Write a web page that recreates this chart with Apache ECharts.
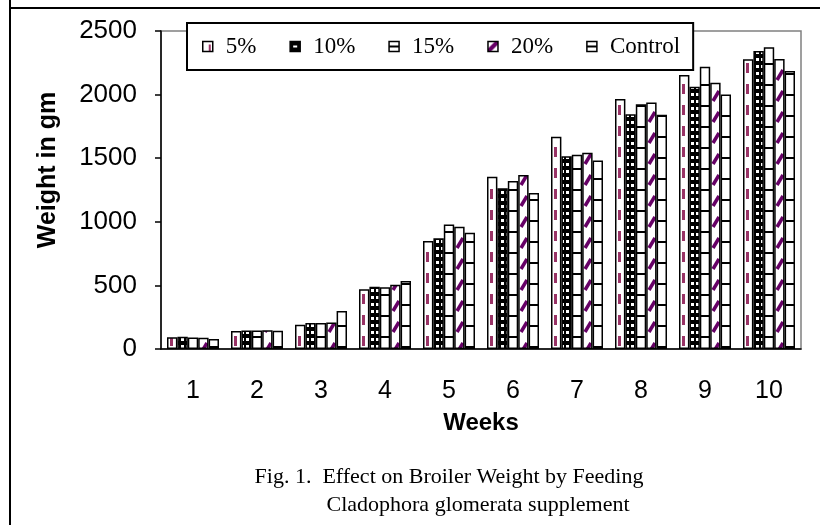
<!DOCTYPE html>
<html>
<head>
<meta charset="utf-8">
<script src="https://cdn.jsdelivr.net/npm/echarts@6/dist/echarts.min.js"></script>
<style>html,body{margin:0;padding:0;background:#fff;}#c{width:820px;height:525px;}</style>
</head>
<body>
<div id="c"></div>
<script>
const weeks = ['1','2','3','4','5','6','7','8','9','10'];
const seriesNames = ['5%','10%','15%','20%','Control'];
const s5   = [92, 142, 190, 470, 850, 1355, 1668, 1965, 2154, 2277];
const s10  = [96, 145, 205, 490, 870, 1263, 1515, 1845, 2062, 2343];
const s15  = [90, 145, 205, 485, 978, 1321, 1528, 1924, 2218, 2372];
const s20  = [88, 147, 208, 505, 962, 1368, 1543, 1937, 2094, 2280];
const sCtl = [78, 143, 298, 535, 914, 1226, 1481, 1842, 2000, 2186];
const yTicks = ['0', '500', '1000', '1500', '2000', '2500'];

function tile(w, h, draw) {
  const c = document.createElement('canvas');
  c.width = w; c.height = h;
  const g = c.getContext('2d');
  g.fillStyle = '#fff'; g.fillRect(0, 0, w, h);
  draw(g);
  return c;
}
const MAG = '#993366', PUR = '#660066';
const p5 = tile(64, 21, g => { g.fillStyle = MAG; g.fillRect(42, 0, 3, 10); });
const p10 = tile(5, 7, g => { g.fillStyle = '#000'; g.fillRect(0, 0, 5, 7); g.fillStyle = '#fff'; g.fillRect(1, 2, 3, 3); });
const p15 = tile(8, 21, g => { g.fillStyle = '#000'; g.fillRect(0, 0, 8, 2); });
const pCtl = tile(8, 21, g => { g.fillStyle = '#000'; g.fillRect(0, 10, 8, 2); });
const p20 = tile(64, 21, g => {
  g.strokeStyle = PUR; g.lineWidth = 3.5;
  g.beginPath(); g.moveTo(9, 17); g.lineTo(15, 7); g.stroke();
});
const i5 = tile(10, 10, g => { g.fillStyle = MAG; g.fillRect(6, 3, 2, 7); });
const i10 = tile(10, 10, g => { g.fillStyle = '#000'; g.fillRect(0, 0, 10, 10); g.fillStyle = '#fff'; g.fillRect(3, 4, 4, 2); });
const i15 = tile(10, 10, g => { g.fillStyle = '#000'; g.fillRect(0, 4, 10, 2); });
const i20 = tile(10, 10, g => {
  g.fillStyle = PUR; g.beginPath(); g.moveTo(0, 10); g.lineTo(0, 7); g.lineTo(7, 0); g.lineTo(10, 0); g.lineTo(10, 3); g.lineTo(3, 10); g.closePath(); g.fill();
});
const iCtl = i15;

const pats = [p5, p10, p15, p20, pCtl];
const icons = [i5, i10, i15, i20, iCtl];
const values = [s5, s10, s15, s20, sCtl];

const chart = echarts.init(document.getElementById('c'), null, {renderer: 'canvas'});
chart.setOption({
  animation: false,
  backgroundColor: '#fff',
  grid: {left: 161, right: 19, top: 31, bottom: 176, show: true, borderColor: '#808080', borderWidth: 1.5, backgroundColor: '#fff'},
  legend: {
    left: 187, top: 23,
    data: seriesNames.map((n, i) => ({name: n, itemStyle: {color: {image: icons[i], repeat: 'repeat'}, borderColor: '#000', borderWidth: 1.5}})),
    icon: 'rect', itemWidth: 10, itemHeight: 10, itemGap: 33,
    padding: [12, 13, 12, 15],
    borderColor: '#000', borderWidth: 2, backgroundColor: '#fff',
    textStyle: {fontFamily: 'Liberation Serif', fontSize: 23, color: '#000', padding: [0, 0, 0, 8]}
  },
  xAxis: {
    type: 'category', data: weeks,
    axisLine: {lineStyle: {color: '#000', width: 1.5}},
    axisTick: {length: 8, lineStyle: {color: '#000', width: 1.5}},
    axisLabel: {fontFamily: 'Liberation Sans', fontSize: 25, color: '#000', margin: 30},
    name: 'Weeks', nameLocation: 'middle', nameGap: 62,
    nameTextStyle: {fontFamily: 'Liberation Sans', fontSize: 24, fontWeight: 'bold', color: '#000'}
  },
  yAxis: {
    type: 'value', min: 0, max: 2500, interval: 500,
    axisLine: {show: true, lineStyle: {color: '#000', width: 1.5}},
    axisTick: {show: true, length: 6, lineStyle: {color: '#000', width: 1.5}},
    splitLine: {show: false},
    axisLabel: {fontFamily: 'Liberation Sans', fontSize: 26, color: '#000', margin: 24,
      formatter: v => yTicks[Math.round(v / 500)]}
  },
  series: seriesNames.map((n, i) => ({
    name: n, type: 'bar', data: values[i],
    barGap: '0%', barCategoryGap: '18.75%',
    itemStyle: {color: {image: pats[i], repeat: 'repeat'}, borderColor: '#000', borderWidth: 1.5}
  })),
  graphic: [
    {type: 'line', shape: {x1: 10, y1: 0, x2: 10, y2: 525}, style: {stroke: '#000', lineWidth: 2}},
    {type: 'line', shape: {x1: 10, y1: 8, x2: 820, y2: 8}, style: {stroke: '#000', lineWidth: 2}},
    {type: 'text', x: 48, y: 170, rotation: Math.PI / 2,
      style: {text: 'Weight in gm', font: 'bold 25px "Liberation Sans"', fill: '#000', align: 'center', verticalAlign: 'middle', textAlign: 'center', textVerticalAlign: 'middle'}},
    {type: 'text', x: 449, y: 477,
      style: {text: 'Fig. 1.  Effect on Broiler Weight by Feeding', font: '22px "Liberation Serif"', fill: '#000', align: 'center', verticalAlign: 'middle', textAlign: 'center', textVerticalAlign: 'middle'}},
    {type: 'text', x: 478, y: 505,
      style: {text: 'Cladophora glomerata supplement', font: '22px "Liberation Serif"', fill: '#000', align: 'center', verticalAlign: 'middle', textAlign: 'center', textVerticalAlign: 'middle'}}
  ]
});
</script>
</body>
</html>
